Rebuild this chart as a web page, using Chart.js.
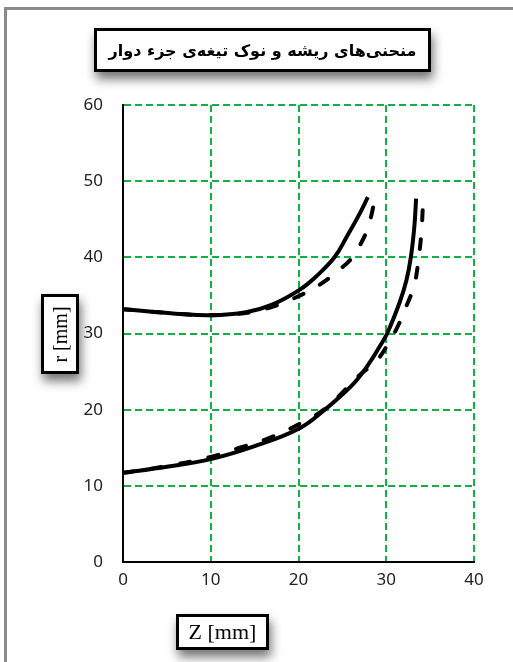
<!DOCTYPE html>
<html>
<head>
<meta charset="utf-8">
<script src="https://cdn.jsdelivr.net/npm/chart.js@4.4.1/dist/chart.umd.min.js"></script>
<style>
  html, body { margin: 0; padding: 0; background: #fff; }
  #wrap { position: relative; width: 513px; height: 662px; overflow: hidden; }
  #frame { position: absolute; left: 4px; top: 7px; width: 600px; height: 700px;
           border-left: 3px solid #8a8a8a; border-top: 3px solid #8a8a8a; }
  canvas { position: absolute; left: 0; top: 0; }
  .box { position: absolute; background: #fff; border: 3px solid #000; box-sizing: border-box;
         box-shadow: 2px 7px 10px rgba(0,0,0,0.55); display: flex; align-items: center; justify-content: center; }
  #title { left: 94px; top: 28px; width: 337px; height: 44px; font-family: "DejaVu Sans", sans-serif;
           font-weight: bold; font-size: 16px; direction: rtl; }
  #ylab { left: 41px; top: 294px; width: 38px; height: 80px; }
  #ylab span { transform: rotate(-90deg); font-family: "Liberation Serif", serif; font-size: 20px; white-space: nowrap; }
  #xlab { left: 176px; top: 614px; width: 93px; height: 36px; font-family: "Liberation Serif", serif; font-size: 22px; }
</style>
</head>
<body>
<div id="wrap">
  <div id="frame"></div>
  <canvas id="myChart" width="513" height="662"></canvas>
  <div class="box" id="title">منحنی‌های ریشه و نوک تیغه‌ی جزء دوار</div>
  <div class="box" id="ylab"><span>r [mm]</span></div>
  <div class="box" id="xlab">Z [mm]</div>
</div>
<script>
// tip curve (upper), solid
const tipZ = [0, 3, 6, 10, 14, 17, 20.2, 22.2, 24.1, 25.5, 27.0, 27.9];
const tipR = [33.2, 32.9, 32.6, 32.4, 32.8, 33.8, 35.8, 37.7, 40.0, 42.7, 45.8, 47.9];
// tip curve (upper), dashed
const tipDZ = [0, 3, 6, 10, 14, 17, 20.2, 22.4, 25.3, 26.3, 27.7, 28.3, 28.7];
const tipDR = [33.2, 32.9, 32.6, 32.4, 32.7, 33.5, 35.0, 36.4, 39.0, 40.3, 43.2, 45.5, 47.8];
// hub curve (lower), solid
const hubZ = [0, 5, 10, 15, 20.2, 23, 25.1, 26.5, 28.0, 29.2, 30.1, 31.5, 32.3, 32.8, 33.2, 33.4];
const hubR = [11.7, 12.5, 13.5, 15.2, 17.6, 20.0, 22.1, 23.7, 26.0, 28.2, 30.0, 34.0, 37.0, 40.0, 44.0, 47.7];
// hub curve (lower), dashed
const hubDZ = [0, 5, 10, 13.3, 16.7, 20.2, 23.2, 27.2, 28.7, 30.6, 31.5, 32.1, 32.8, 33.3, 33.8, 34.0, 34.1, 34.2];
const hubDR = [11.7, 12.6, 13.8, 15.0, 16.3, 18.2, 20.3, 24.8, 26.1, 29.4, 31.4, 33.1, 35.0, 36.8, 40.9, 43.2, 44.9, 47.8];

const xTicks = [0, 10, 20, 30, 40];
const yTicks = [0, 10, 20, 30, 40, 50, 60];

const pts = (zs, rs) => zs.map((z, i) => ({ x: z, y: rs[i] }));

const solid = { borderColor: "#000", borderWidth: 4, pointRadius: 0, tension: 0.4, fill: false };
const dashed = { borderColor: "#000", borderWidth: 4, pointRadius: 0, tension: 0.4, fill: false,
                 borderDash: [10, 19], borderCapStyle: "round" };

const gridColor = (c) => (c.tick.value === 0 ? "rgba(0,0,0,0)" : "#12b044");

const ctx = document.getElementById("myChart").getContext("2d");
new Chart(ctx, {
  type: "line",
  data: {
    datasets: [
      { ...dashed, data: pts(tipDZ, tipDR) },
      { ...solid, data: pts(tipZ, tipR) },
      { ...dashed, data: pts(hubDZ, hubDR) },
      { ...solid, data: pts(hubZ, hubR) },
    ],
  },
  options: {
    responsive: false,
    animation: false,
    layout: { padding: { left: 0, top: 105, right: 39, bottom: 0 } },
    plugins: { legend: { display: false }, tooltip: { enabled: false } },
    scales: {
      x: {
        type: "linear",
        min: 0,
        max: 40,
        afterFit: (s) => { s.height = 100; },
        afterBuildTicks: (s) => { s.ticks = xTicks.map((v) => ({ value: v })); },
        border: { display: true, color: "#000", width: 2, dash: [7, 4] },
        grid: { color: gridColor, lineWidth: 2, drawTicks: false },
        ticks: { color: "#222", font: { family: "Noto Sans", size: 17 }, padding: 8 },
      },
      y: {
        min: 0,
        max: 60,
        afterFit: (s) => { s.width = 123; },
        afterBuildTicks: (s) => { s.ticks = yTicks.map((v) => ({ value: v })); },
        border: { display: true, color: "#000", width: 2, dash: [7, 4] },
        grid: { color: gridColor, lineWidth: 2, drawTicks: false },
        ticks: { color: "#222", font: { family: "Noto Sans", size: 17 }, padding: 20 },
      },
    },
  },
});
</script>
</body>
</html>
